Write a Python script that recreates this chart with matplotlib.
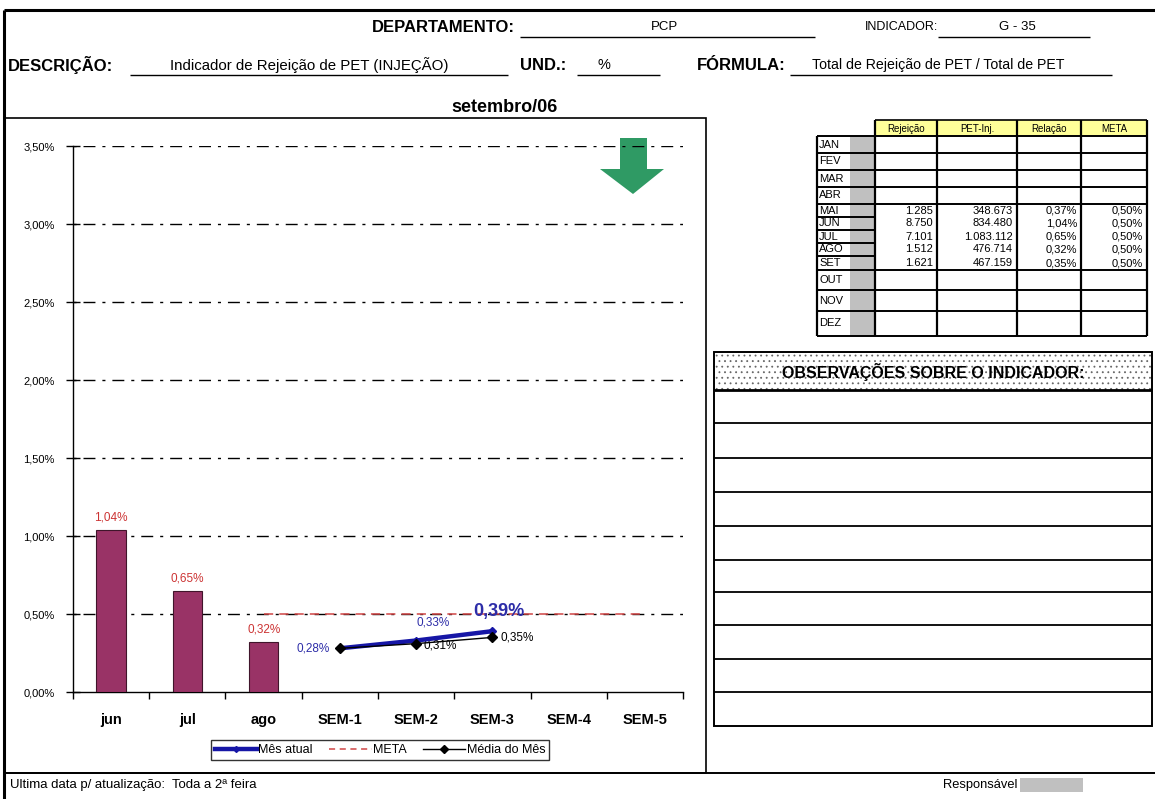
import matplotlib
matplotlib.use("Agg")
import matplotlib.pyplot as plt
from matplotlib.patches import Rectangle, Polygon
from matplotlib.lines import Line2D
import numpy as np

W, H, DPI = 1155, 799, 100

# ---------------- data ----------------
categories = ["jun", "jul", "ago", "SEM-1", "SEM-2", "SEM-3", "SEM-4", "SEM-5"]
monthly_rate = [1.04, 0.65, 0.32]          # % rejection, jun / jul / ago
week_current = [0.28, 0.33, 0.39]          # "Mês atual", SEM-1..SEM-3
week_average = [0.28, 0.31, 0.35]          # "Média do Mês", SEM-1..SEM-3
meta_value = 0.50                          # target (%)
meta_from = 2                              # target drawn from "ago" onwards
y_ticks = [0.0, 0.5, 1.0, 1.5, 2.0, 2.5, 3.0, 3.5]

table_months = ["JAN", "FEV", "MAR", "ABR", "MAI", "JUN",
                "JUL", "AGO", "SET", "OUT", "NOV", "DEZ"]
table_cols = ["Rejeição", "PET-Inj.", "Relação", "META"]
col_rejeicao = ["", "", "", "", "1.285", "8.750", "7.101", "1.512", "1.621", "", "", ""]
col_pet_inj = ["", "", "", "", "348.673", "834.480", "1.083.112", "476.714", "467.159", "", "", ""]
col_relacao = ["", "", "", "", "0,37%", "1,04%", "0,65%", "0,32%", "0,35%", "", "", ""]
col_meta = ["", "", "", "", "0,50%", "0,50%", "0,50%", "0,50%", "0,50%", "", "", ""]

SANS = ["Liberation Sans", "DejaVu Sans"]
plt.rcParams["font.family"] = SANS
plt.rcParams["hatch.linewidth"] = 0.6


def pct(v, nd=2):
    return f"{v:.{nd}f}%".replace(".", ",")


fig = plt.figure(figsize=(W / DPI, H / DPI), dpi=DPI)
fig.patch.set_facecolor("white")

# sheet layer in pixel coordinates (y downwards)
bg = fig.add_axes([0, 0, 1, 1])
bg.set_xlim(0, W)
bg.set_ylim(H, 0)
bg.axis("off")


def hline(x0, x1, y, lw=1.0, color="black"):
    bg.plot([x0, x1], [y, y], color=color, lw=lw, solid_capstyle="butt")


def vline(x, y0, y1, lw=1.0, color="black"):
    bg.plot([x, x], [y0, y1], color=color, lw=lw, solid_capstyle="butt")


# outer frame
hline(4, W, 10, lw=2.2)
vline(4, 10, H, lw=2.2)
hline(4, W, 773, lw=1.4)
bg.add_patch(Rectangle((4, 118), 702, 655, fill=False, lw=1.2, ec="black"))

# header fields
bold_kw = dict(weight="bold", size=12, va="center")
bg.text(515, 27, "DEPARTAMENTO:", ha="right", **bold_kw)
hline(520, 815, 37)
bg.text(664, 27, "PCP", ha="center", size=9.5, va="center")
bg.text(865, 27, "INDICADOR:", ha="left", size=9, va="center")
hline(938, 1090, 37)
bg.text(1017, 27, "G - 35", ha="center", size=9.5, va="center")

bg.text(8, 65, "DESCRIÇÃO:", ha="left", **bold_kw)
hline(130, 508, 75)
bg.text(309, 65, "Indicador de Rejeição de PET (INJEÇÃO)", ha="center",
        size=10.8, va="center")
bg.text(520, 65, "UND.:", ha="left", **bold_kw)
hline(577, 660, 75)
bg.text(604, 65, "%", ha="center", size=10.5, va="center")
bg.text(697, 65, "FÓRMULA:", ha="left", **bold_kw)
hline(790, 1112, 75)
bg.text(938, 65, "Total de Rejeição de PET / Total de PET", ha="center",
        size=10.2, va="center")

bg.text(504, 108, "setembro/06", ha="center", va="center", weight="bold", size=13)

# green "lower is better" arrow
bg.add_patch(Polygon([[620, 138], [647, 138], [647, 169], [664, 169],
                      [633, 194], [600, 169], [620, 169]],
                     closed=True, fc="#2f9a64", ec="none"))

# monthly table
col_x = [817, 875, 937, 1017, 1081, 1147]
head_y0, head_y1 = 120, 136
row_edges = [136, 153, 170, 187, 204, 217, 230, 243, 256, 270, 290, 311, 336]
bg.add_patch(Rectangle((col_x[1], head_y0), col_x[-1] - col_x[1], head_y1 - head_y0,
                       fc="#ffff99", ec="none"))
bg.add_patch(Rectangle((850, head_y1), col_x[1] - 850, row_edges[-1] - head_y1,
                       fc="#c0c0c0", ec="none"))
for i, name in enumerate(table_cols):
    cx = (col_x[i + 1] + col_x[i + 2]) / 2
    bg.text(cx, (head_y0 + head_y1) / 2 + 1, name, ha="center", va="center", size=7)
hline(col_x[1], col_x[-1], head_y0, lw=1.2)
for x in col_x[1:]:
    vline(x, head_y0, row_edges[-1], lw=1.6)
vline(col_x[0], head_y1, row_edges[-1], lw=1.6)
columns = [col_rejeicao, col_pet_inj, col_relacao, col_meta]
for r, month in enumerate(table_months):
    y0, y1 = row_edges[r], row_edges[r + 1]
    yc = (y0 + y1) / 2
    bg.text(col_x[0] + 2, yc, month, ha="left", va="center", size=8)
    for c, col in enumerate(columns):
        if col[r]:
            bg.text(col_x[c + 2] - 4, yc, col[r], ha="right", va="center", size=8)
    # filled months form one block in the value columns
    inside_block = bool(col_rejeicao[r]) and r + 1 < len(table_months) \
        and bool(col_rejeicao[r + 1])
    hline(col_x[0], col_x[1] if inside_block else col_x[-1], y1, lw=1.4)
hline(col_x[0], col_x[-1], head_y1, lw=1.4)

# observations box
ox0, ox1 = 714, 1152
obs_lines = [390, 423, 458, 492, 526, 560, 592, 625, 659, 692, 726]
bg.add_patch(Rectangle((ox0, 352), ox1 - ox0, 38, fc="white", ec="#666666",
                       hatch="...", lw=0))
bg.add_patch(Rectangle((ox0, 352), ox1 - ox0, obs_lines[-1] - 352, fill=False,
                       ec="black", lw=1.4))
bg.text((ox0 + ox1) / 2, 372, "OBSERVAÇÕES SOBRE O INDICADOR:", ha="center",
        va="center", weight="bold", size=11.5)
for k, y in enumerate(obs_lines[:-1]):
    hline(ox0, ox1, y, lw=2.0 if k == 0 else 1.3)

# footer
bg.text(10, 785, "Ultima data p/ atualização:  Toda a 2ª feira", ha="left",
        va="center", size=9.5)
bg.text(943, 785, "Responsável", ha="left", va="center", size=9.3)
bg.add_patch(Rectangle((1020, 778), 63, 14, fc="#c0c0c0", ec="none"))

# ---------------- chart ----------------
x0, x1, y0, y1 = 73, 683, 692, 146
ax = fig.add_axes([x0 / W, 1 - y0 / H, (x1 - x0) / W, (y0 - y1) / H])
ax.set_facecolor("none")
ax.set_xlim(-0.5, len(categories) - 0.5)
ax.set_ylim(0, 3.5)

for v in y_ticks[1:]:
    ax.axhline(v, color="black", lw=1.0, dashes=(2.2, 5, 8.6, 5), zorder=1)

xs = np.arange(len(categories))
ax.bar(xs[:len(monthly_rate)], monthly_rate, width=0.39, color="#993366",
       edgecolor="#40152b", lw=0.8, zorder=3)

meta_x = xs[meta_from:]
ax.plot(meta_x, [meta_value] * len(meta_x), color="#d04545", lw=1.1,
        dashes=(6, 4), zorder=2)

wx = xs[3:3 + len(week_current)]
ax.plot(wx, week_current, color="#1616a6", lw=3.2, marker="D", ms=4,
        mfc="#1616a6", mec="#1616a6", zorder=4)
ax.plot(wx, week_average, color="black", lw=1.0, marker="D", ms=5,
        zorder=5)

for spine in ("top", "right"):
    ax.spines[spine].set_visible(False)
for spine in ("left", "bottom"):
    ax.spines[spine].set_linewidth(1.0)

ax.set_yticks(y_ticks)
ax.set_yticklabels([pct(v) for v in y_ticks], size=8)
ax.tick_params(axis="y", direction="inout", length=10, width=1, pad=8)
ax.set_xticks(xs)
ax.set_xticklabels(categories, weight="bold", size=10.5)
ax.tick_params(axis="x", length=0, pad=15)
ax.set_xticks(np.arange(-0.5, len(categories), 1.0), minor=True)
ax.tick_params(axis="x", which="minor", direction="out", length=5, width=1)

red = "#cc3333"
blue = "#2d2da8"
for x, v in zip(xs, monthly_rate):
    ax.annotate(pct(v), (x, v), xytext=(0, 9), textcoords="offset points",
                ha="center", va="center", color=red, size=8.5)

ax.annotate(pct(week_current[0]), (wx[0], week_current[0]), xytext=(-7, 0),
            textcoords="offset points", ha="right", va="center", color=blue, size=8.5)
ax.annotate(pct(week_current[1]), (wx[1], week_current[1]), xytext=(12, 13),
            textcoords="offset points", ha="center", va="center", color=blue, size=8.5)
ax.annotate(pct(week_current[2]), (wx[2], week_current[2]), xytext=(5, 14),
            textcoords="offset points", ha="center", va="center", color=blue,
            size=13, weight="bold", zorder=6)
ax.annotate(pct(week_average[1]), (wx[1], week_average[1]), xytext=(5, -1),
            textcoords="offset points", ha="left", va="center", color="black",
            size=8.5, zorder=3)
ax.annotate(pct(week_average[2]), (wx[2], week_average[2]), xytext=(6, 0),
            textcoords="offset points", ha="left", va="center", color="black", size=8.5)

handles = [
    Line2D([], [], color="#1616a6", lw=3.2, marker="D", ms=3),
    Line2D([], [], color="#d04545", lw=1.1, dashes=(4, 3)),
    Line2D([], [], color="black", lw=1.0, marker="D", ms=4),
]
leg = fig.legend(handles, ["Mês atual", "META", "Média do Mês"], loc="center",
                 bbox_to_anchor=(380 / W, 1 - 750 / H), ncol=3, fontsize=9,
                 frameon=True, fancybox=False, edgecolor="black",
                 handlelength=3.4, handletextpad=0.1, columnspacing=1.3,
                 borderpad=0.3)
leg.get_frame().set_linewidth(1.0)

fig.savefig("out.png", dpi=DPI, facecolor="white")
